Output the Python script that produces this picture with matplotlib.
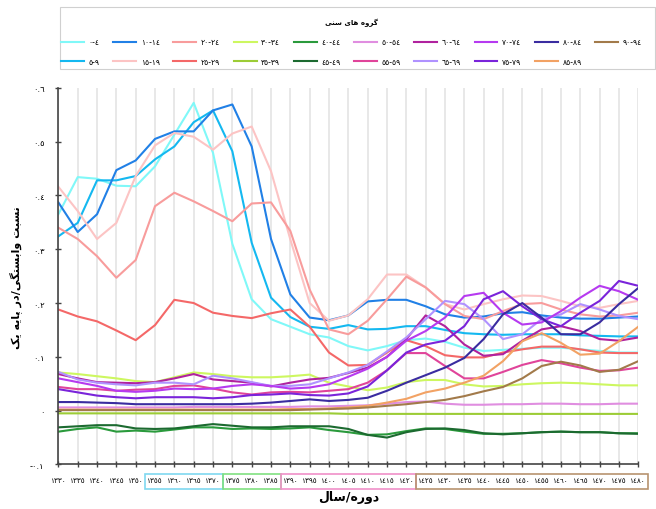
import matplotlib
matplotlib.use("Agg")
import matplotlib.pyplot as plt
from matplotlib.patches import Rectangle
import matplotlib.transforms as mtransforms

# categories (periods / years)
years = [1330, 1335, 1340, 1345, 1350, 1355, 1360, 1365, 1370, 1375, 1380,
         1385, 1390, 1395, 1400, 1405, 1410, 1415, 1420, 1425, 1430, 1435,
         1440, 1445, 1450, 1455, 1460, 1465, 1470, 1475, 1480]

age_groups = ['0-4', '5-9', '10-14', '15-19', '20-24', '25-29', '30-34', '35-39',
              '40-44', '45-49', '50-54', '55-59', '60-64', '65-69', '70-74',
              '75-79', '80-84', '85-89', '90-94']

g00_04 = [0.365, 0.434, 0.431, 0.418, 0.417, 0.454, 0.513, 0.572, 0.479, 0.31, 0.207,
          0.17, 0.156, 0.142, 0.136, 0.12, 0.112, 0.12, 0.131, 0.134, 0.128, 0.117,
          0.111, 0.113, 0.115, 0.117, 0.117, 0.114, 0.111, 0.108, 0.108]
g05_09 = [0.324, 0.349, 0.428, 0.428, 0.436, 0.467, 0.491, 0.536, 0.558, 0.482, 0.312,
          0.21, 0.174, 0.156, 0.152, 0.159, 0.151, 0.152, 0.157, 0.157, 0.15, 0.144,
          0.142, 0.141, 0.142, 0.142, 0.142, 0.14, 0.139, 0.138, 0.138]
g10_14 = [0.387, 0.332, 0.365, 0.447, 0.465, 0.505, 0.519, 0.519, 0.558, 0.569, 0.491,
          0.319, 0.216, 0.173, 0.168, 0.177, 0.203, 0.206, 0.206, 0.194, 0.179, 0.173,
          0.175, 0.181, 0.183, 0.177, 0.173, 0.171, 0.171, 0.173, 0.175]
g15_19 = [0.416, 0.371, 0.319, 0.349, 0.436, 0.493, 0.516, 0.509, 0.485, 0.515, 0.528,
          0.445, 0.318, 0.2, 0.167, 0.177, 0.207, 0.253, 0.253, 0.229, 0.198, 0.188,
          0.198, 0.207, 0.214, 0.213, 0.204, 0.194, 0.191, 0.198, 0.204]
g20_24 = [0.34, 0.319, 0.287, 0.247, 0.28, 0.38, 0.405, 0.389, 0.371, 0.352, 0.385,
          0.387, 0.334, 0.225, 0.151, 0.142, 0.167, 0.207, 0.249, 0.229, 0.198, 0.176,
          0.17, 0.185, 0.198, 0.2, 0.188, 0.179, 0.175, 0.177, 0.182]
g25_29 = [0.188, 0.175, 0.166, 0.149, 0.131, 0.159, 0.206, 0.2, 0.182, 0.176, 0.172,
          0.181, 0.188, 0.156, 0.108, 0.084, 0.085, 0.108, 0.131, 0.12, 0.103, 0.099,
          0.099, 0.108, 0.114, 0.119, 0.119, 0.114, 0.108, 0.107, 0.107]
g30_34 = [0.071, 0.068, 0.064, 0.06, 0.055, 0.053, 0.062, 0.071, 0.068, 0.064, 0.062,
          0.062, 0.064, 0.067, 0.052, 0.045, 0.038, 0.043, 0.053, 0.057, 0.057, 0.049,
          0.045, 0.046, 0.049, 0.051, 0.052, 0.051, 0.049, 0.047, 0.047]
g35_39 = [-0.005, -0.005, -0.005, -0.005, -0.005, -0.005, -0.005, -0.005, -0.005, -0.005,
          -0.005, -0.005, -0.005, -0.005, -0.005, -0.006, -0.006, -0.006, -0.006, -0.006,
          -0.006, -0.006, -0.006, -0.006, -0.006, -0.006, -0.006, -0.006, -0.006, -0.006,
          -0.006]
g40_44 = [-0.039, -0.034, -0.031, -0.039, -0.037, -0.039, -0.035, -0.031, -0.031, -0.034,
          -0.033, -0.034, -0.033, -0.031, -0.036, -0.04, -0.045, -0.044, -0.038, -0.033,
          -0.034, -0.039, -0.043, -0.043, -0.042, -0.04, -0.039, -0.04, -0.04, -0.042,
          -0.042]
g45_49 = [-0.031, -0.029, -0.027, -0.027, -0.033, -0.034, -0.033, -0.029, -0.025, -0.028,
          -0.031, -0.031, -0.029, -0.029, -0.029, -0.034, -0.045, -0.05, -0.04, -0.034,
          -0.033, -0.036, -0.042, -0.044, -0.042, -0.04, -0.039, -0.04, -0.04, -0.042,
          -0.043]
g50_54 = [0.006, 0.006, 0.006, 0.006, 0.006, 0.006, 0.006, 0.007, 0.007, 0.007, 0.007,
          0.007, 0.007, 0.008, 0.008, 0.009, 0.01, 0.013, 0.016, 0.017, 0.013, 0.011,
          0.011, 0.012, 0.012, 0.013, 0.013, 0.012, 0.012, 0.013, 0.013]
g55_59 = [0.044, 0.04, 0.04, 0.037, 0.039, 0.04, 0.046, 0.047, 0.041, 0.034, 0.03,
          0.034, 0.035, 0.034, 0.037, 0.04, 0.052, 0.075, 0.107, 0.107, 0.083, 0.06,
          0.06, 0.072, 0.085, 0.094, 0.088, 0.08, 0.074, 0.075, 0.08]
g60_64 = [0.068, 0.06, 0.053, 0.052, 0.051, 0.053, 0.06, 0.068, 0.058, 0.055, 0.052,
          0.045, 0.052, 0.058, 0.061, 0.07, 0.08, 0.1, 0.133, 0.177, 0.157, 0.123,
          0.102, 0.105, 0.13, 0.151, 0.157, 0.148, 0.133, 0.13, 0.136]
g65_69 = [0.072, 0.058, 0.052, 0.049, 0.047, 0.052, 0.052, 0.049, 0.065, 0.06, 0.053,
          0.046, 0.046, 0.049, 0.06, 0.071, 0.085, 0.11, 0.136, 0.17, 0.204, 0.198,
          0.17, 0.133, 0.142, 0.17, 0.179, 0.198, 0.188, 0.176, 0.17]
g70_74 = [0.06, 0.053, 0.046, 0.037, 0.035, 0.037, 0.041, 0.04, 0.041, 0.046, 0.049,
          0.046, 0.041, 0.043, 0.049, 0.063, 0.078, 0.1, 0.13, 0.148, 0.173, 0.213,
          0.219, 0.182, 0.16, 0.164, 0.185, 0.21, 0.232, 0.222, 0.206]
g75_79 = [0.04, 0.034, 0.028, 0.025, 0.023, 0.025, 0.025, 0.025, 0.023, 0.025, 0.029,
          0.03, 0.032, 0.029, 0.028, 0.032, 0.045, 0.075, 0.108, 0.123, 0.13, 0.157,
          0.207, 0.222, 0.194, 0.17, 0.157, 0.182, 0.204, 0.241, 0.232]
g80_84 = [0.016, 0.016, 0.015, 0.014, 0.012, 0.012, 0.012, 0.012, 0.012, 0.012, 0.013,
          0.015, 0.018, 0.021, 0.018, 0.02, 0.024, 0.037, 0.052, 0.066, 0.08, 0.098,
          0.133, 0.179, 0.2, 0.173, 0.142, 0.142, 0.164, 0.198, 0.228]
g85_89 = [0.002, 0.002, 0.002, 0.002, 0.002, 0.002, 0.002, 0.002, 0.002, 0.002, 0.002,
          0.002, 0.003, 0.003, 0.004, 0.006, 0.009, 0.015, 0.022, 0.034, 0.041, 0.052,
          0.065, 0.092, 0.129, 0.144, 0.126, 0.104, 0.106, 0.129, 0.156]
g90_94 = [0.001, 0.001, 0.001, 0.001, 0.001, 0.001, 0.001, 0.001, 0.001, 0.001, 0.001,
          0.001, 0.001, 0.002, 0.003, 0.004, 0.006, 0.009, 0.012, 0.016, 0.02, 0.027,
          0.036, 0.044, 0.06, 0.083, 0.091, 0.084, 0.072, 0.076, 0.092]

series = [g00_04, g05_09, g10_14, g15_19, g20_24, g25_29, g30_34, g35_39, g40_44, g45_49,
          g50_54, g55_59, g60_64, g65_69, g70_74, g75_79, g80_84, g85_89, g90_94]

colors = ['#80f8f8', '#14b8f0', '#2180e6', '#fcc4c4', '#f89c9c', '#f46868', '#cdf760',
          '#9ccc36', '#2a9a3c', '#1c6a30', '#e08ee0', '#e0449a', '#b0229e', '#b092ff',
          '#b63af0', '#7a24da', '#3a2ca0', '#f2a264', '#a27a4a']

# year ranges framed under the x axis
box_groups = [(1355, 1370, '#7fd8f0'), (1375, 1385, '#80e080'),
              (1390, 1420, '#f090c8'), (1425, 1480, '#b89470')]

yticks = [-0.1, 0, 0.1, 0.2, 0.3, 0.4, 0.5, 0.6]

# --- minimal Persian shaping (matplotlib has no bidi / joining support) ---
FORMS = {  # isolated, final, initial, medial
    'ا': ('\uFE8D', '\uFE8E', None, None),
    'د': ('\uFEA9', '\uFEAA', None, None),
    'ر': ('\uFEAD', '\uFEAE', None, None),
    'و': ('\uFEED', '\uFEEE', None, None),
    'ب': ('\uFE8F', '\uFE90', '\uFE91', '\uFE92'),
    'ت': ('\uFE95', '\uFE96', '\uFE97', '\uFE98'),
    'س': ('\uFEB1', '\uFEB2', '\uFEB3', '\uFEB4'),
    'ل': ('\uFEDD', '\uFEDE', '\uFEDF', '\uFEE0'),
    'ن': ('\uFEE5', '\uFEE6', '\uFEE7', '\uFEE8'),
    'ه': ('\uFEE9', '\uFEEA', '\uFEEB', '\uFEEC'),
    'پ': ('\uFB56', '\uFB57', '\uFB58', '\uFB59'),
    'ک': ('\uFB8E', '\uFB8F', '\uFB90', '\uFB91'),
    'گ': ('\uFB92', '\uFB93', '\uFB94', '\uFB95'),
    'ی': ('\uFBFC', '\uFBFD', '\uFBFE', '\uFBFF'),
}


def fa(text):
    out = []
    for k, ch in enumerate(text):
        if ch not in FORMS:
            out.append(ch)
            continue
        prev = text[k - 1] if k > 0 else ''
        nxt = text[k + 1] if k + 1 < len(text) else ''
        iso, fin, ini, med = FORMS[ch]
        jp = prev in FORMS and FORMS[prev][2] is not None
        jn = ini is not None and nxt in FORMS
        if jp and jn:
            out.append(med)
        elif jp:
            out.append(fin)
        elif jn:
            out.append(ini)
        else:
            out.append(iso)
    return ''.join(reversed(out))


def digits(s):
    return str(s).translate(str.maketrans('0123456789', '٠١٢٣٤٥٦٧٨٩'))


def ytick_label(v):
    if v == 0:
        return digits(0)
    return ('-' if v < 0 else '') + digits('%.1f' % abs(v))


plt.rcParams['font.family'] = ['DejaVu Sans']
fig = plt.figure(figsize=(6.56, 5.10), dpi=100)
ax = fig.add_axes([0.089, 0.0873, 0.884, 0.7386])

for vals, col, lab in zip(series, colors, age_groups):
    ax.plot(years, vals, color=col, lw=1.5, label=digits(lab))

ax.set_xlim(1330, 1480)
ax.set_ylim(-0.1, 0.6)
ax.set_xticks(years)
ax.set_xticklabels([digits(y) for y in years], fontsize=5.2)
ax.set_yticks(yticks)
ax.set_yticklabels([ytick_label(v) for v in yticks], fontsize=6)
ax.tick_params(axis='both', direction='inout', length=4, width=1, color='#444444')
ax.tick_params(axis='x', pad=7)
ax.tick_params(axis='y', pad=8)
ax.grid(axis='x', color='#e4e4e4', lw=1.2)
ax.set_axisbelow(True)
for s in ['top', 'right']:
    ax.spines[s].set_visible(False)
for s in ['left', 'bottom']:
    ax.spines[s].set_color('#444444')
    ax.spines[s].set_linewidth(1.2)

ax.set_ylabel(fa('نسبت وابستگی/در پایه یک'), fontsize=8, fontweight='bold', labelpad=6)
ax.set_xlabel(fa('دوره/سال'), fontsize=9, fontweight='bold', labelpad=5)

trans = mtransforms.blended_transform_factory(ax.transData, ax.transAxes)
for y0, y1, col in box_groups:
    ax.add_patch(Rectangle((y0 - 2.5, -0.065), (y1 - y0) + 5, 0.04, transform=trans,
                           fill=False, edgecolor=col, lw=1.2, clip_on=False))

# legend box: frame and title drawn separately so the spacing matches
fig.patches.append(Rectangle((0.0915, 0.863), 0.9065, 0.121, transform=fig.transFigure,
                             fill=False, edgecolor='#d0d0d0', lw=0.8))
fig.text(0.535, 0.956, fa('گروه های سنی'), ha='center', va='center', fontsize=5,
         fontweight='bold')
fig.legend(loc='upper left', bbox_to_anchor=(0.0935, 0.845, 0.885, 0.08),
           ncol=10, mode='expand', fontsize=5.5, handlelength=3.0,
           frameon=False, borderaxespad=0, borderpad=0, labelspacing=1.4,
           handletextpad=0.6)

fig.savefig('out.png', dpi=100)
